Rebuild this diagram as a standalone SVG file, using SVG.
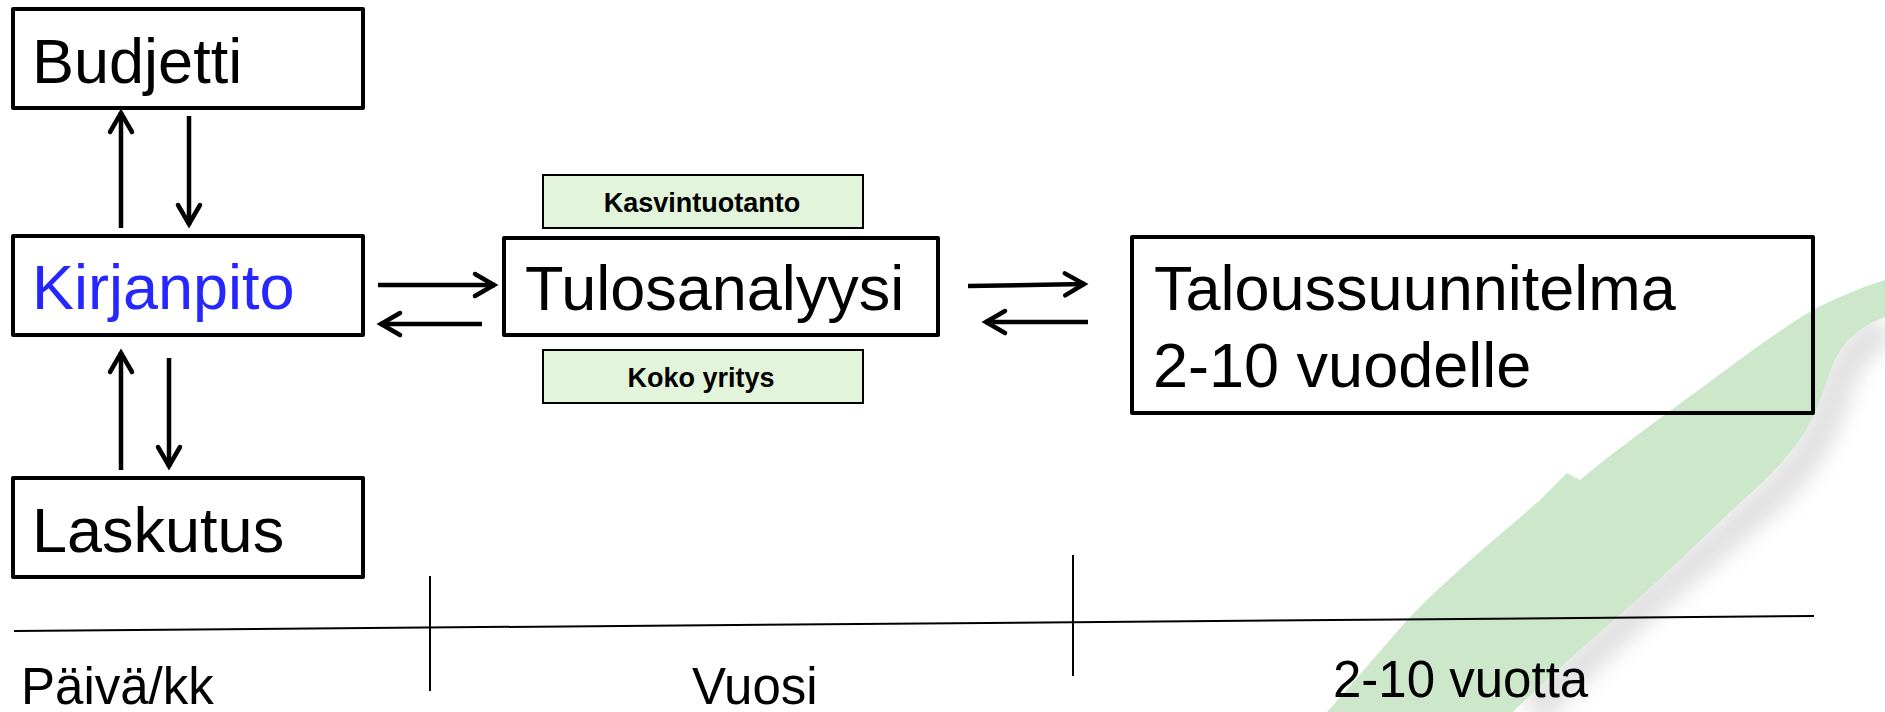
<svg xmlns="http://www.w3.org/2000/svg" width="1885" height="712" viewBox="0 0 1885 712">
<style>
.box{fill:none;stroke:#000;stroke-width:4;stroke-linejoin:round}
.tag{fill:#E2F4DA;stroke:#000;stroke-width:2}
.big{font-family:"Liberation Sans",Arial,sans-serif;font-size:63px;fill:#000}
.small{font-family:"Liberation Sans",Arial,sans-serif;font-size:27px;font-weight:bold;fill:#000;text-anchor:middle}
.axis{font-family:"Liberation Sans",Arial,sans-serif;font-size:51px;fill:#000}
.arr{fill:none;stroke:#000;stroke-width:4.5;marker-end:url(#head)}
.tl{stroke:#000;stroke-width:2;fill:none}
</style>
<defs>
<marker id="head" markerUnits="userSpaceOnUse" markerWidth="40" markerHeight="40" viewBox="-30 -20 40 40" refX="0" refY="0" orient="auto">
<path d="M-20,-11 L-1,0 L-20,11" fill="none" stroke="#000" stroke-width="4.5" stroke-linejoin="miter" stroke-linecap="round"/>
</marker>
<filter id="blur" x="-20%" y="-20%" width="140%" height="140%"><feGaussianBlur stdDeviation="10"/></filter>
</defs>
<rect width="1885" height="712" fill="#fff"/>
<g id="swoosh">
<path d="M1885,328 C1858,340 1842,365 1832,400 C1820,440 1800,470 1760,505 C1710,550 1660,590 1625,622 C1590,655 1560,685 1532,712" fill="none" stroke="#c4c4c4" stroke-width="34" opacity="0.5" filter="url(#blur)"/>
<path d="M1327,712 C1360,675 1385,645 1410,617 C1450,575 1500,535 1540,500 L1567,473 L1580,480 C1610,455 1640,433 1667,413 C1720,375 1770,335 1813,310 C1840,296 1862,287 1885,280 L1885,317 C1860,326 1840,342 1830,372 C1820,402 1812,422 1798,442 C1782,464 1764,482 1743,500 C1700,540 1660,580 1617,617 C1580,650 1545,680 1513,712 Z" fill="#CDE7CA"/>
</g>
<g id="timeline">
<line class="tl" x1="14" y1="631" x2="1814" y2="616"/>
<line class="tl" x1="430" y1="576" x2="430" y2="691"/>
<line class="tl" x1="1073" y1="555" x2="1073" y2="676"/>
<text class="axis" x="21" y="704">Päivä/kk</text>
<text class="axis" x="692" y="704">Vuosi</text>
<text class="axis" x="1333" y="697">2-10 vuotta</text>
</g>
<g id="budjetti">
<rect class="box" x="13" y="9" width="350" height="99"/>
<text class="big" x="32" y="83">Budjetti</text>
</g>
<g id="kirjanpito">
<rect class="box" x="13" y="236" width="350" height="99"/>
<text class="big" x="32" y="309" style="fill:#2626FF">Kirjanpito</text>
</g>
<g id="laskutus">
<rect class="box" x="13" y="478" width="350" height="99"/>
<text class="big" x="32" y="552">Laskutus</text>
</g>
<g id="kasvintuotanto">
<rect class="tag" x="543" y="175" width="320" height="53"/>
<text class="small" x="702" y="212">Kasvintuotanto</text>
</g>
<g id="tulosanalyysi">
<rect class="box" x="504" y="238" width="434" height="97"/>
<text class="big" x="525" y="310">Tulosanalyysi</text>
</g>
<g id="kokoyritys">
<rect class="tag" x="543" y="350" width="320" height="53"/>
<text class="small" x="701" y="387">Koko yritys</text>
</g>
<g id="taloussuunnitelma">
<rect class="box" x="1132" y="237" width="681" height="176"/>
<text class="big" x="1154" y="310">Taloussuunnitelma</text>
<text class="big" x="1153" y="387">2-10 vuodelle</text>
</g>
<g id="connectors">
<line class="arr" x1="121" y1="228" x2="121" y2="112"/>
<line class="arr" x1="189" y1="116" x2="189" y2="225"/>
<line class="arr" x1="121" y1="470" x2="121" y2="352"/>
<line class="arr" x1="169" y1="358" x2="169" y2="467"/>
<line class="arr" x1="378" y1="285" x2="495" y2="285"/>
<line class="arr" x1="482" y1="324" x2="380" y2="324"/>
<line class="arr" x1="968" y1="286" x2="1085" y2="284"/>
<line class="arr" x1="1088" y1="322" x2="985" y2="322"/>
</g>
</svg>
